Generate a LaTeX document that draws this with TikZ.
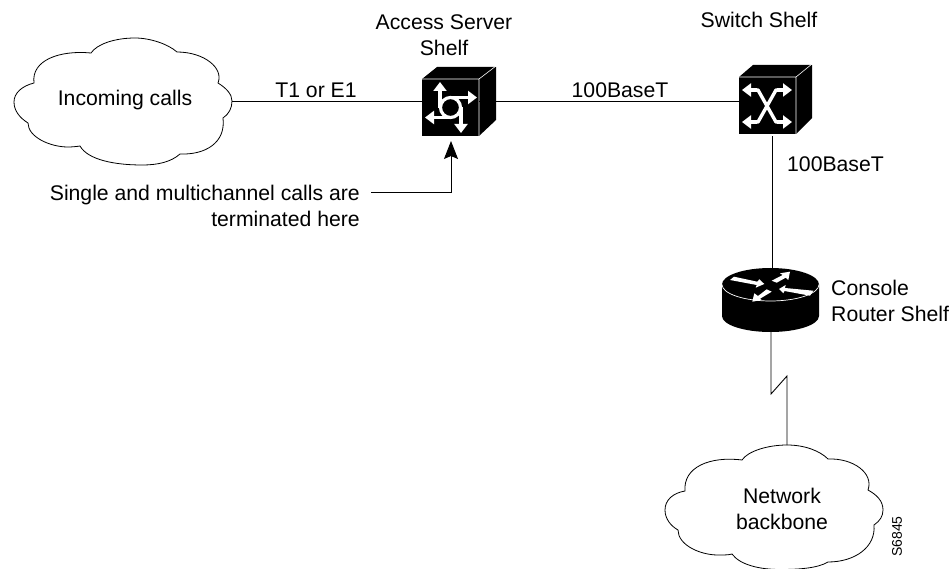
\documentclass[tikz,border=0pt]{standalone}
\usepackage{fontspec}
\setmainfont{Liberation Sans}
\usetikzlibrary{arrows.meta}
\tikzset{
  lbl/.style={font=\fontsize{21.2}{26}\selectfont, align=center, inner sep=0pt},
  lbll/.style={lbl, align=left, anchor=west},
  lblr/.style={lbl, align=right, anchor=east},
  wire/.style={draw=black, line width=0.9pt},
  cloudline/.style={draw=black, line width=0.8pt, fill=white},
  warrow/.style={draw=white, line width=3.2pt, -{Triangle[length=9pt,width=13pt,fill=white]}},
  wtaper/.style={fill=white, draw=none},
}
\begin{document}
\begin{tikzpicture}[x=1pt,y=-1pt]
\useasboundingbox (0,0) rectangle (951,569);
% Incoming cloud
\path[cloudline] (34,83)
 .. controls (22,86) and (14,93) .. (14,102)
 .. controls (14,111) and (20,118) .. (28,123)
 .. controls (28,137) and (50,147) .. (68,147)
 .. controls (72,147) and (77,146.5) .. (80,146)
 .. controls (88,160) and (115,165) .. (142,165)
 .. controls (158,165) and (171,162) .. (180,154)
 .. controls (205,155) and (226,143) .. (223,118)
 .. controls (229,114) and (232,108) .. (232,101)
 .. controls (232,94) and (226,88) .. (218,83)
 .. controls (224,68) and (204,52) .. (177,52)
 .. controls (168,44) and (150,38) .. (135,38)
 .. controls (115,38) and (97,44) .. (91,53)
 .. controls (60,50) and (31,60) .. (34,83) -- cycle;
\node[lbl] (incoming) at (125,100) {Incoming calls};
% Network cloud
\path[cloudline] (685,491)
 .. controls (673,493) and (665,500) .. (665,510)
 .. controls (665,519) and (671,526) .. (678,530)
 .. controls (678,545) and (700,555) .. (718,555)
 .. controls (724,555) and (729,555) .. (732,554)
 .. controls (740,565) and (760,569.5) .. (780,569.5)
 .. controls (800,569.5) and (818,568) .. (828,562)
 .. controls (855,562) and (876,547) .. (874,525)
 .. controls (880,521) and (883,516) .. (883,510)
 .. controls (883,501) and (877,495) .. (868,490)
 .. controls (874,473) and (853,458) .. (828,459)
 .. controls (820,451) and (805,445) .. (787,445)
 .. controls (768,445) and (748,451) .. (742,460)
 .. controls (710,456) and (683,467) .. (685,491) -- cycle;
\node[lbl] (netback) at (782,509) {Network\\backbone};
% Anchors of connectors
\coordinate (cloudE) at (232,101.5);
\coordinate (netN) at (787,445);
% Access shelf
\fill (437,67) -- (496,67) -- (496,120) -- (479,136) -- (422,136) -- (422,79) -- cycle;
\draw[white, line width=0.6pt] (422,79) -- (479,79) -- (479,136) (479,79) -- (496,66);
\node[minimum width=57pt, minimum height=57pt, inner sep=0pt] (access) at (450.5,107.5) {};
\draw[white, line width=3.2pt] (access.center) ++(10,0) arc[start angle=0, end angle=360, radius=10pt];
\draw[warrow] (440,108) -- (440,82);
\draw[warrow] (450,97.5) -- (477,97.5);
\draw[warrow] (461,107) -- (461,133);
\draw[warrow] (451,117.5) -- (425,117.5);
% Switch shelf
\fill (753,65) -- (812,65) -- (812,118) -- (796,134) -- (739,134) -- (739,77) -- cycle;
\draw[white, line width=0.6pt] (739,77) -- (796,77) -- (796,134) (796,77) -- (812,64);
\node[minimum width=57pt, minimum height=57pt, inner sep=0pt] (switch) at (767.5,105.5) {};
\draw[warrow] (757,90) -- (742,90);
\draw[warrow] (777,90) -- (792,90);
\draw[warrow] (757,122) -- (742,122);
\draw[warrow] (777,122) -- (792,122);
\draw[white, line width=3.4pt, line join=round] (755,90) -- (758,90) -- (776,122) -- (779,122) (779,90) -- (776,90) -- (758,122) -- (755,122);
% Router
\node[minimum width=97pt, minimum height=64pt, inner sep=0pt] (router) at (770.5,300) {};
\fill (722,284.5) arc[start angle=180, end angle=0, x radius=48.5pt, y radius=16.5pt] -- (819,316) arc[start angle=0, end angle=-180, x radius=48.5pt, y radius=16pt] -- cycle;
\draw[white, line width=0.7pt] (722,284.5) arc[start angle=180, end angle=360, x radius=48.5pt, y radius=16.5pt];
\fill[wtaper] (730,280) -- (734,276.7) -- (757.3,281.7) -- (759.3,279.3) -- (764.3,284) -- (755.7,287.7) -- (756.7,285) -- cycle;
\fill[wtaper] (771.7,280.7) -- (782.7,275) -- (780,273.3) -- (790,271.7) -- (788.3,280) -- (785.7,277.7) -- (776.7,282.7) -- cycle;
\fill[wtaper] (779,289) -- (785.7,285) -- (785,288) -- (813.3,290.7) -- (810,295.7) -- (784.5,291) -- (783.3,293.3) -- cycle;
\fill[wtaper] (752.3,301.7) -- (754.3,293.3) -- (758,296) -- (766.7,289.3) -- (771.7,291.7) -- (760,298.7) -- (761.7,300) -- cycle;
% Connectors
\draw[wire] (cloudE) -- (access.west |- cloudE);
\draw[wire] (access.east |- 0,101.5) -- (switch.west |- 0,101.5);
\draw[wire] (772,136.5) -- (772,268);
\draw[wire] (771,332) -- (771,394) -- (787,376) -- (netN);
\coordinate (anno) at (371,192);
\draw[wire, -{Stealth[length=18pt,width=14pt,inset=3pt]}] (anno) -- (451,192) -- (451,141);
% Labels
\node[lbl] (a1) at (444,35) {Access Server\\Shelf};
\node[lbl] (a2) at (759,20) {Switch Shelf};
\node[lbl] (a3) at (316,90) {T1 or E1};
\node[lbl] (a4) at (620,90) {100BaseT};
\node[lbll] (a5) at (787,164) {100BaseT};
\node[lbll] (a6) at (831,301) {Console\\Router Shelf};
\node[lblr] (a7) at (360,206) {Single and multichannel calls are\\terminated here};
\node[font=\fontsize{14}{16}\selectfont, rotate=90, inner sep=0pt] (s) at (897,536.5) {S6845};
\end{tikzpicture}
\end{document}
